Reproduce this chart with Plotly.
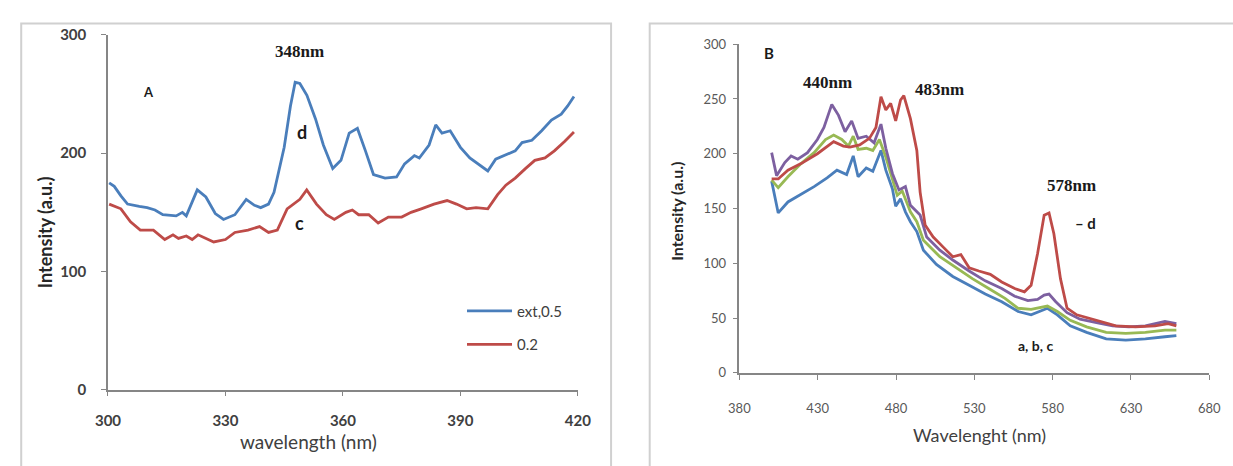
import plotly.graph_objects as go

# ---------------- Panel A data ----------------
a_blue_x = [300.3, 301.6, 303.3, 305, 308, 310, 312, 314, 317.4, 319, 320, 322.8, 325, 327.4, 329.5,
            332.4, 335.3, 337.4, 339, 341, 342.4, 345, 346.6, 347.8, 349, 350.8, 353, 355, 357.4,
            359.5, 361.6, 363.7, 365.75, 367.8, 370.75, 373.7, 375.75, 378.25, 379.5, 382, 383.7,
            385.3, 387.4, 390, 392.4, 394.9, 397, 399, 401.6, 404, 405.75, 408.25, 410.75, 413.25,
            415.75, 417.4, 419]
a_blue_y = [175, 172, 164, 157, 155, 154, 152, 148, 147, 150, 147, 169, 163, 149, 144,
            148, 161, 156, 154, 157, 167, 205, 240, 260, 259, 249, 229, 207, 187,
            194, 217, 221, 202, 182, 179, 180, 191, 198, 196, 207, 224,
            217, 219, 205, 196, 190, 185, 195, 199, 202, 209, 211, 219, 228,
            233, 240, 248]

a_red_x = [300.3, 303.3, 305.75, 308.25, 311.6, 314.5, 316.6, 318, 320, 321.5, 323, 327, 330, 332.4,
           335.75, 338.7, 341, 343.25, 345.75, 349, 350.75, 353.25, 355.75, 357.8, 360.75, 362.4,
           364, 366.6, 369, 371.6, 375, 377.4, 380, 383.25, 386.6, 389, 391.6, 394, 397, 399.5,
           401.6, 404, 406.6, 409, 411.6, 414, 416.6, 419]
a_red_y = [157, 153, 142, 135, 135, 127, 131, 128, 130, 127, 131, 125, 127, 133,
           135, 138, 133, 135, 153, 161, 169, 157, 148, 144, 150, 152,
           148, 148, 141, 146, 146, 150, 153, 157, 160, 157, 153, 154, 153, 165,
           173, 179, 187, 194, 196, 202, 210, 218]

# ---------------- Panel B data ----------------
b_purple_x = [400.6, 403.75, 409, 413, 417.3, 423.5, 429.8, 434, 439, 443.3, 447.5, 451.7, 455.8,
              461, 466, 470.4, 473.5, 477.7, 481.9, 486, 489.2, 495.4, 499.6, 508, 516.25, 526.7,
              537, 547.5, 555.8, 564.2, 570.4, 574.6, 577.7, 582, 589.2, 597.5, 608, 618.3,
              628.75, 639.2, 651.7, 659]
b_purple_y = [201, 180, 192, 198, 195, 201, 213, 224, 245, 235, 220, 230, 214,
              216, 210, 227, 205, 182, 167, 170, 153, 144, 124, 112, 103, 93,
              84, 77, 70, 66, 67, 71, 72, 65, 55, 49, 46, 43,
              42, 43, 47, 45]

b_green_x = [400.6, 404.8, 411, 419.4, 427.7, 435, 440.2, 445.4, 449.6, 452.7, 455.8, 461, 465.2,
             469.4, 473.5, 477.7, 480.8, 484, 489.2, 493.3, 497.5, 508, 518.3, 528.75, 539.2,
             549.6, 558, 566.25, 576.7, 583, 591.25, 601.7, 614.2, 626.7, 639.2, 651.7, 659]
b_green_y = [176, 169, 179, 191, 201, 213, 217, 213, 207, 216, 204, 205, 203,
             213, 197, 176, 162, 166, 147, 138, 121, 106, 96, 86, 77,
             68, 59, 58, 61, 56, 48, 42, 37, 36, 37, 39, 39]

b_red_x = [400.6, 404.8, 411, 419.4, 429.8, 440.2, 446.4, 450.6, 456.8, 463, 467.2, 470.4, 473.5,
           476.6, 479.8, 482.9, 485, 489.2, 493.3, 495.4, 498.6, 503.75, 510, 516.25, 521.4,
           526.7, 532.9, 540.2, 547.5, 555.8, 562, 566.25, 570.4, 574.6, 577.7, 580.8, 585,
           589.2, 595.4, 608, 620.4, 632.9, 645.4, 653.75, 659]
b_red_y = [177, 177, 185, 191, 200, 211, 207, 206, 208, 214, 224, 252, 240,
           246, 230, 249, 253, 232, 203, 165, 135, 124, 115, 106, 108,
           96, 93, 90, 83, 77, 74, 80, 109, 144, 146, 127, 86,
           59, 53, 48, 43, 42, 43, 45, 43]

b_blue_x = [400.6, 404.8, 411, 419.4, 427.7, 436, 442.3, 448.5, 452.7, 455.8, 461, 465.2, 470.4,
            473.5, 477.7, 479.8, 482.9, 486, 489.2, 493.3, 497.5, 505.8, 516.25, 526.7, 537,
            547.5, 558, 566.25, 576.7, 583, 591.25, 601.7, 614.2, 626.7, 639.2, 651.7, 659]
b_blue_y = [175, 146, 156, 163, 170, 178, 185, 181, 198, 179, 187, 184, 203,
            185, 168, 152, 159, 147, 138, 129, 112, 99, 88, 80, 72,
            65, 56, 53, 59, 53, 43, 37, 31, 30, 31, 33, 34]

a_xticks = [300, 330, 360, 390, 420]
a_yticks = [0, 100, 200, 300]
b_xticks = [380, 430, 480, 530, 580, 630, 680]
b_yticks = [0, 50, 100, 150, 200, 250, 300]

BLUE = "#4a7ebb"
RED = "#be4b48"
GREEN = "#98b954"
PURPLE = "#7d60a0"

fig = go.Figure()
fig.add_trace(go.Scatter(x=a_blue_x, y=a_blue_y, mode="lines", name="ext,0.5",
                         line=dict(color=BLUE, width=2.8), xaxis="x", yaxis="y", legend="legend"))
fig.add_trace(go.Scatter(x=a_red_x, y=a_red_y, mode="lines", name="0.2",
                         line=dict(color=RED, width=2.8), xaxis="x", yaxis="y", legend="legend2"))

for xs, ys, c in [(b_blue_x, b_blue_y, BLUE), (b_green_x, b_green_y, GREEN),
                  (b_purple_x, b_purple_y, PURPLE), (b_red_x, b_red_y, RED)]:
    fig.add_trace(go.Scatter(x=xs, y=ys, mode="lines", showlegend=False,
                             line=dict(color=c, width=2.8), xaxis="x2", yaxis="y2"))

AX = "#868686"
common = dict(showgrid=False, zeroline=False, showline=True, linecolor=AX, linewidth=1.5,
              ticks="outside", ticklen=5, tickcolor=AX)

fig.update_layout(
    width=1233, height=466, margin=dict(l=0, r=0, t=0, b=0),
    paper_bgcolor="white", plot_bgcolor="white",
    xaxis=dict(domain=[0.0787, 0.468], range=[300, 420], tickvals=a_xticks, ticklabelstandoff=12,
               tickfont=dict(family="Lato", size=15, color="#404040", weight="bold"),
               anchor="y", **common),
    yaxis=dict(domain=[0.1524, 0.9442], range=[0, 300], tickvals=a_yticks, ticklabelstandoff=12,
               tickfont=dict(family="Lato", size=15, color="#404040", weight="bold"),
               anchor="x", **common),
    xaxis2=dict(domain=[0.6018, 0.9911], range=[380, 680], tickvals=b_xticks, ticklabelstandoff=18,
                tickfont=dict(family="Lato", size=13, color="#595959"),
                anchor="y2", **common),
    yaxis2=dict(domain=[0.1899, 0.9238], range=[0, 300], tickvals=b_yticks, ticklabelstandoff=4,
                tickfont=dict(family="Lato", size=13, color="#595959"),
                anchor="x2", **common),
    legend=dict(x=0.372, y=0.328, xanchor="left", yanchor="middle", itemwidth=45,
                font=dict(family="Lato", size=15, color="#404040"), bgcolor="rgba(0,0,0,0)"),
    legend2=dict(x=0.372, y=0.253, xanchor="left", yanchor="middle", itemwidth=45,
                 font=dict(family="Lato", size=15, color="#404040"), bgcolor="rgba(0,0,0,0)"),
    shapes=[
        dict(type="rect", xref="paper", yref="paper", x0=0.0068, x1=0.4955, y0=-0.05, y1=0.970,
             line=dict(color="#d0d0d0", width=2)),
        dict(type="rect", xref="paper", yref="paper", x0=0.5275, x1=1.05, y0=-0.05, y1=0.970,
             line=dict(color="#d0d0d0", width=2)),
    ],
)

serif = dict(family="Liberation Serif", size=17, color="#1a1a1a", weight="bold")
dark = "#1a1a1a"
ann = [
    dict(text="348nm", x=349, y=286, xref="x", yref="y", font=serif),
    dict(text="A", x=310.3, y=252, xref="x", yref="y", font=dict(family="Lato", size=13, color=dark, weight="bold")),
    dict(text="d", x=349.5, y=218, xref="x", yref="y", font=dict(family="Lato", size=18, color=dark, weight="bold")),
    dict(text="c", x=349, y=141, xref="x", yref="y", font=dict(family="Lato", size=18, color=dark, weight="bold")),
    dict(text="wavelength (nm)", x=0.245, y=0.037, xref="paper", yref="paper",
         font=dict(family="Lato", size=19, color="#404040")),
    dict(text="Intensity (a.u.)", x=0.026, y=0.505, xref="paper", yref="paper", textangle=-90,
         font=dict(family="Lato", size=18, color="#262626", weight="bold")),
    dict(text="B", x=398.8, y=291.5, xref="x2", yref="y2", font=dict(family="Lato", size=15, color=dark, weight="bold")),
    dict(text="440nm", x=436, y=265, xref="x2", yref="y2", font=serif),
    dict(text="483nm", x=508, y=259, xref="x2", yref="y2", font=serif),
    dict(text="578nm", x=592, y=171, xref="x2", yref="y2", font=serif),
    dict(text="– d", x=601, y=137, xref="x2", yref="y2", font=dict(family="Lato", size=15, color=dark, weight="bold")),
    dict(text="a, b, c", x=569, y=25, xref="x2", yref="y2", font=dict(family="Lato", size=14, color=dark, weight="bold")),
    dict(text="Wavelenght (nm)", x=0.801, y=0.052, xref="paper", yref="paper",
         font=dict(family="Lato", size=18, color="#404040")),
    dict(text="Intensity (a.u.)", x=0.5495, y=0.55, xref="paper", yref="paper", textangle=-90,
         font=dict(family="Lato", size=16, color="#262626", weight="bold")),
]
for a in ann:
    a.setdefault("showarrow", False)
    a.setdefault("xanchor", "center")
    a.setdefault("yanchor", "middle")
fig.update_layout(annotations=ann)

fig.write_html("out.html")
